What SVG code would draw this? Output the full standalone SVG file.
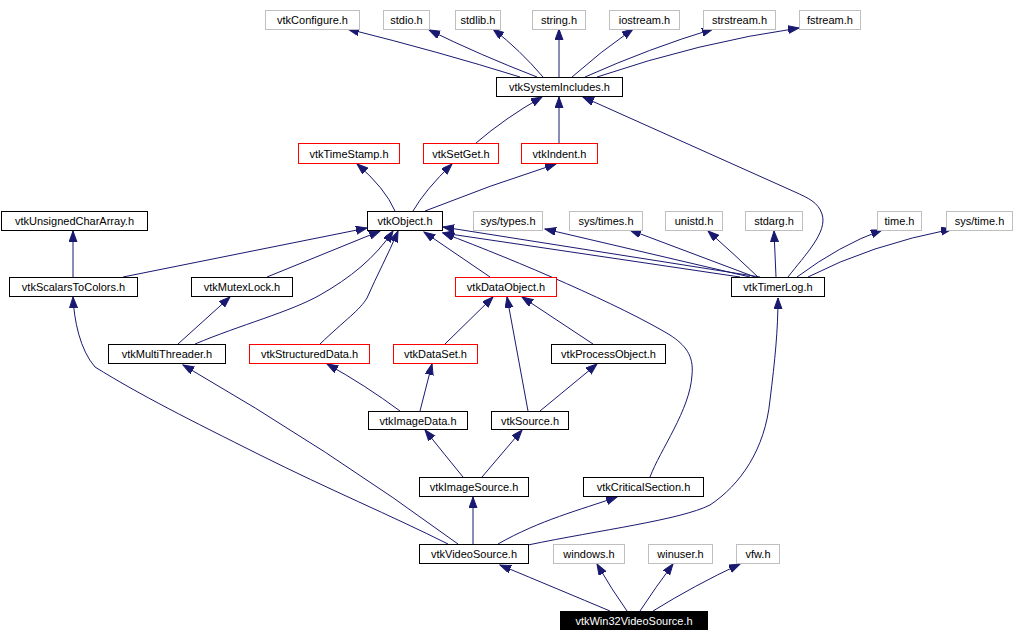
<svg xmlns="http://www.w3.org/2000/svg" width="1014" height="642" viewBox="0 0 1014 642">
<style>
rect{fill:#fff;stroke:#000;stroke-width:1}
.r rect{stroke:#ff0000}
.g rect{stroke:#bfbfbf}
.k rect{fill:#000;stroke:#000}
text{font-family:"Liberation Sans",Arial,sans-serif;font-size:11px;text-anchor:middle;fill:#000}
.k text{fill:#fff}
#edges path{fill:none;stroke:#191970;stroke-width:1;marker-end:url(#ah)}
</style>
<defs>
<marker id="ah" markerUnits="userSpaceOnUse" markerWidth="12" markerHeight="9" refX="11" refY="4" orient="auto">
<path d="M0,0 L11,4 L0,8 z" fill="#191970" stroke="#191970" stroke-width="1"/>
</marker>
</defs>
<rect x="0" y="0" width="1014" height="642" style="fill:#fff;stroke:none"/>
<g id="edges">
<path d="M520,77 Q440,52 348,29"/>
<path d="M537,77 Q480,55 429,30"/>
<path d="M543,77 Q520,50 493,29"/>
<path d="M559,77 L559,29"/>
<path d="M572,77 Q600,52 633,29"/>
<path d="M585,77 Q650,48 713,29"/>
<path d="M597,77 Q700,42 799,28"/>
<path d="M476,143 Q505,118 542,97"/>
<path d="M559,143 L559,97"/>
<path d="M788,277 C805,255 828,232 822,214 C818,202 808,198 795,192 L583,97"/>
<path d="M395,211 Q385,188 357,164"/>
<path d="M413,211 Q425,190 452,164"/>
<path d="M425,211 Q490,185 556,164"/>
<path d="M73,277 L73,231"/>
<path d="M123,277 L367,228"/>
<path d="M267,277 L380,231"/>
<path d="M195,344 C240,325 290,312 320,295 C350,278 375,258 393,231"/>
<path d="M320,344 C345,320 360,310 367,298 C377,275 388,255 398,231"/>
<path d="M490,277 L424,232"/>
<path d="M760,277 L443,227"/>
<path d="M740,277 L443,233"/>
<path d="M650,477 C660,450 690,410 692,375 C694,355 685,345 670,335 C620,305 520,262 443,233"/>
<path d="M750,277 L545,229"/>
<path d="M755,277 L630,230"/>
<path d="M758,277 Q735,255 708,231"/>
<path d="M776,277 L774,231"/>
<path d="M797,277 Q840,245 882,230"/>
<path d="M808,277 Q870,245 952,229"/>
<path d="M178,344 L230,297"/>
<path d="M445,344 L493,297"/>
<path d="M528,411 L507,297"/>
<path d="M593,344 L522,297"/>
<path d="M400,411 Q365,385 327,364"/>
<path d="M420,411 L432,364"/>
<path d="M540,411 L597,364"/>
<path d="M463,477 Q445,455 425,430"/>
<path d="M482,477 L522,430"/>
<path d="M473,544 L473,497"/>
<path d="M498,544 C540,520 580,510 617,497"/>
<path d="M528,545 C600,530 680,520 710,505 C740,485 765,450 770,400 C775,360 778,330 778,298"/>
<path d="M458,544 Q330,450 183,365"/>
<path d="M448,544 C390,515 330,490 260,455 C190,420 140,395 95,367 C80,350 74,320 73,297"/>
<path d="M610,611 Q560,590 500,565"/>
<path d="M627,611 Q612,590 597,564"/>
<path d="M640,611 Q655,588 673,564"/>
<path d="M653,611 Q695,585 740,564"/>
</g>
<g id="n_vtkConfigure" class="g"><rect x="265.5" y="10.5" width="94" height="19"/><text x="312.5" y="24">vtkConfigure.h</text></g>
<g id="n_stdio" class="g"><rect x="383.5" y="10.5" width="46" height="19"/><text x="406.5" y="24">stdio.h</text></g>
<g id="n_stdlib" class="g"><rect x="455.5" y="10.5" width="45" height="19"/><text x="478" y="24">stdlib.h</text></g>
<g id="n_string" class="g"><rect x="532.5" y="10.5" width="53" height="19"/><text x="559" y="24">string.h</text></g>
<g id="n_iostream" class="g"><rect x="609.5" y="10.5" width="70" height="19"/><text x="644.5" y="24">iostream.h</text></g>
<g id="n_strstream" class="g"><rect x="703.5" y="10.5" width="72" height="19"/><text x="739.5" y="24">strstream.h</text></g>
<g id="n_fstream" class="g"><rect x="799.5" y="10.5" width="61" height="19"/><text x="830" y="24">fstream.h</text></g>
<g id="n_vtkSystemIncludes"><rect x="496.5" y="77.5" width="126" height="19"/><text x="559.5" y="91">vtkSystemIncludes.h</text></g>
<g id="n_vtkTimeStamp" class="r"><rect x="298.5" y="143.5" width="101" height="20"/><text x="349" y="157.5">vtkTimeStamp.h</text></g>
<g id="n_vtkSetGet" class="r"><rect x="423.5" y="143.5" width="75" height="20"/><text x="461" y="157.5">vtkSetGet.h</text></g>
<g id="n_vtkIndent" class="r"><rect x="521.5" y="143.5" width="76" height="20"/><text x="559.5" y="157.5">vtkIndent.h</text></g>
<g id="n_vtkUnsignedCharArray"><rect x="1.5" y="211.5" width="146" height="19"/><text x="74.5" y="225">vtkUnsignedCharArray.h</text></g>
<g id="n_vtkObject"><rect x="367.5" y="211.5" width="75" height="19"/><text x="405" y="225">vtkObject.h</text></g>
<g id="n_sys_types" class="g"><rect x="473.5" y="211.5" width="69" height="19"/><text x="508" y="225">sys/types.h</text></g>
<g id="n_sys_times" class="g"><rect x="569.5" y="211.5" width="73" height="19"/><text x="606" y="225">sys/times.h</text></g>
<g id="n_unistd" class="g"><rect x="665.5" y="211.5" width="57" height="19"/><text x="694" y="225">unistd.h</text></g>
<g id="n_stdarg" class="g"><rect x="745.5" y="211.5" width="57" height="19"/><text x="774" y="225">stdarg.h</text></g>
<g id="n_time" class="g"><rect x="877.5" y="211.5" width="44" height="19"/><text x="899.5" y="225">time.h</text></g>
<g id="n_sys_time" class="g"><rect x="946.5" y="211.5" width="66" height="19"/><text x="979.5" y="225">sys/time.h</text></g>
<g id="n_vtkScalarsToColors"><rect x="9.5" y="277.5" width="128" height="19"/><text x="73.5" y="291">vtkScalarsToColors.h</text></g>
<g id="n_vtkMutexLock"><rect x="191.5" y="277.5" width="101" height="19"/><text x="242" y="291">vtkMutexLock.h</text></g>
<g id="n_vtkDataObject" class="r"><rect x="455.5" y="277.5" width="101" height="19"/><text x="506" y="291">vtkDataObject.h</text></g>
<g id="n_vtkTimerLog"><rect x="731.5" y="277.5" width="93" height="19"/><text x="778" y="291">vtkTimerLog.h</text></g>
<g id="n_vtkMultiThreader"><rect x="108.5" y="344.5" width="117" height="19"/><text x="167" y="358">vtkMultiThreader.h</text></g>
<g id="n_vtkStructuredData" class="r"><rect x="249.5" y="344.5" width="120" height="19"/><text x="309.5" y="358">vtkStructuredData.h</text></g>
<g id="n_vtkDataSet" class="r"><rect x="393.5" y="344.5" width="84" height="19"/><text x="435.5" y="358">vtkDataSet.h</text></g>
<g id="n_vtkProcessObject"><rect x="551.5" y="344.5" width="114" height="19"/><text x="608.5" y="358">vtkProcessObject.h</text></g>
<g id="n_vtkImageData"><rect x="368.5" y="411.5" width="99" height="18"/><text x="418" y="424.5">vtkImageData.h</text></g>
<g id="n_vtkSource"><rect x="491.5" y="411.5" width="77" height="18"/><text x="530" y="424.5">vtkSource.h</text></g>
<g id="n_vtkImageSource"><rect x="419.5" y="477.5" width="109" height="19"/><text x="474" y="491">vtkImageSource.h</text></g>
<g id="n_vtkCriticalSection"><rect x="583.5" y="477.5" width="120" height="19"/><text x="643.5" y="491">vtkCriticalSection.h</text></g>
<g id="n_vtkVideoSource"><rect x="419.5" y="544.5" width="109" height="19"/><text x="474" y="558">vtkVideoSource.h</text></g>
<g id="n_windows" class="g"><rect x="553.5" y="544.5" width="71" height="19"/><text x="589" y="558">windows.h</text></g>
<g id="n_winuser" class="g"><rect x="648.5" y="544.5" width="64" height="19"/><text x="680.5" y="558">winuser.h</text></g>
<g id="n_vfw" class="g"><rect x="736.5" y="544.5" width="43" height="19"/><text x="758" y="558">vfw.h</text></g>
<g id="n_vtkWin32VideoSource" class="k"><rect x="560.5" y="611.5" width="147" height="18"/><text x="634" y="624.5">vtkWin32VideoSource.h</text></g>
</svg>
